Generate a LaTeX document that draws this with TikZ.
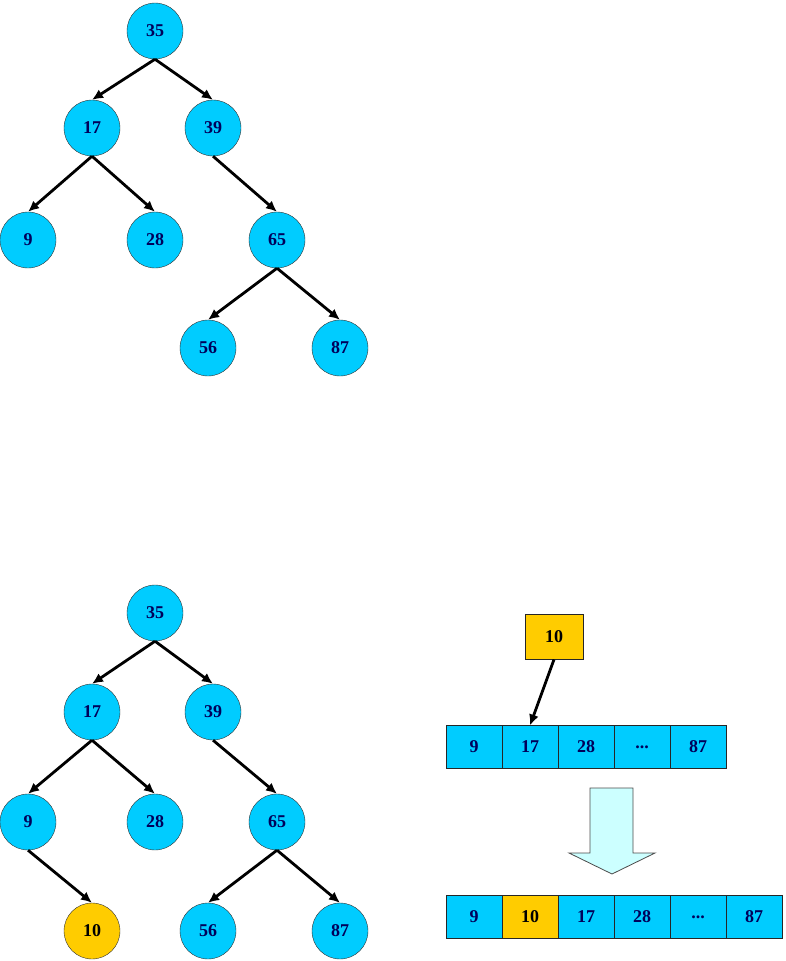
\documentclass[tikz,border=0pt]{standalone}
\usepackage{fontspec}
\setmainfont{Liberation Serif}
\usetikzlibrary{arrows.meta,positioning}
\definecolor{nodeblue}{RGB}{0,204,255}
\definecolor{newyellow}{RGB}{255,204,0}
\definecolor{textnavy}{RGB}{0,0,90}
\definecolor{arrowfill}{RGB}{204,255,255}

\begin{document}
\begin{tikzpicture}[x=1pt,y=-1pt,>={Latex[length=11pt,width=10pt]},
  tnode/.style={circle,draw=black!80,fill=nodeblue,minimum size=56pt,inner sep=0pt,
    font=\bfseries\fontsize{18}{21}\selectfont,text=textnavy},
  newnode/.style={tnode,fill=newyellow,text=black},
  cell/.style={draw=black!85,fill=nodeblue,minimum width=56pt,minimum height=43pt,inner sep=0pt,outer sep=0pt,
    font=\bfseries\fontsize{18}{21}\selectfont,text=textnavy},
  newcell/.style={cell,fill=newyellow,text=black},
  edge/.style={->,line width=2.8pt}]
  \useasboundingbox (0,0) rectangle (785,961);

  % tree before insertion
  \node (t35) [tnode] at (155,31) {35};
  \node (t17) [tnode] at (92,128) {17};
  \node (t39) [tnode] at (213,128) {39};
  \node (t9)  [tnode] at (28,240) {9};
  \node (t28) [tnode] at (155,240) {28};
  \node (t65) [tnode] at (277,240) {65};
  \node (t56) [tnode] at (208,348) {56};
  \node (t87) [tnode] at (340,348) {87};
  \draw[edge] (t35.south) -- (t17.north);
  \draw[edge] (t35.south) -- (t39.north);
  \draw[edge] (t17.south) -- (t9.north);
  \draw[edge] (t17.south) -- (t28.north);
  \draw[edge] (t39.south) -- (t65.north);
  \draw[edge] (t65.south) -- (t56.north);
  \draw[edge] (t65.south) -- (t87.north);

  % tree after inserting 10
  \node (u35) [tnode] at (155,613) {35};
  \node (u17) [tnode] at (92,712) {17};
  \node (u39) [tnode] at (213,712) {39};
  \node (u9)  [tnode] at (28,822) {9};
  \node (u28) [tnode] at (155,822) {28};
  \node (u65) [tnode] at (277,822) {65};
  \node (u10) [newnode] at (92,931) {10};
  \node (u56) [tnode] at (208,931) {56};
  \node (u87) [tnode] at (340,931) {87};
  \draw[edge] (u35.south) -- (u17.north);
  \draw[edge] (u35.south) -- (u39.north);
  \draw[edge] (u17.south) -- (u9.north);
  \draw[edge] (u17.south) -- (u28.north);
  \draw[edge] (u39.south) -- (u65.north);
  \draw[edge] (u9.south) -- (u10.north);
  \draw[edge] (u65.south) -- (u56.north);
  \draw[edge] (u65.south) -- (u87.north);

  % sorted array, before
  \node (ins) [newcell,minimum width=58pt,minimum height=45pt] at (554,637) {10};
  \node (a1) [cell] at (474,747) {9};
  \node (a2) [cell,right=0pt of a1] {17};
  \node (a3) [cell,right=0pt of a2] {28};
  \node (a4) [cell,right=0pt of a3] {...};
  \node (a5) [cell,right=0pt of a4] {87};
  \draw[edge] (ins.south) -- (a2.north);

  % big arrow
  \draw[draw=black!70,fill=arrowfill,line width=0.8pt]
    (590,788) -- (633,788) -- (633,853) -- (655,853) -- (612,874)
    -- (569,853) -- (590,853) -- cycle;

  % sorted array, after
  \node (b1) [cell] at (474,917) {9};
  \node (b2) [newcell,right=0pt of b1] {10};
  \node (b3) [cell,right=0pt of b2] {17};
  \node (b4) [cell,right=0pt of b3] {28};
  \node (b5) [cell,right=0pt of b4] {...};
  \node (b6) [cell,right=0pt of b5] {87};
\end{tikzpicture}
\end{document}
